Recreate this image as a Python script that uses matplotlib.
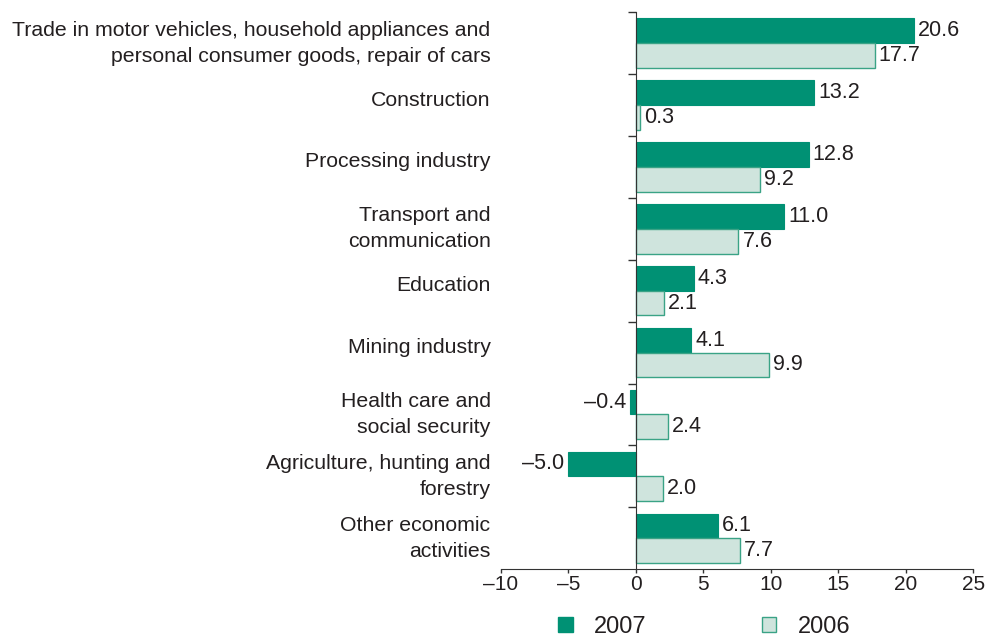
import matplotlib.pyplot as plt
from matplotlib.patches import Patch
from matplotlib.transforms import blended_transform_factory

plt.rcParams["font.family"] = ["Liberation Sans", "DejaVu Sans"]

# Sectors, top to bottom
sectors = [
    "Trade in motor vehicles, household appliances and\npersonal consumer goods, repair of cars",
    "Construction",
    "Processing industry",
    "Transport and\ncommunication",
    "Education",
    "Mining industry",
    "Health care and\nsocial security",
    "Agriculture, hunting and\nforestry",
    "Other economic\nactivities",
]
vals_2007 = [20.6, 13.2, 12.8, 11.0, 4.3, 4.1, -0.4, -5.0, 6.1]
vals_2006 = [17.7, 0.3, 9.2, 7.6, 2.1, 9.9, 2.4, 2.0, 7.7]
x_ticks = [-10, -5, 0, 5, 10, 15, 20, 25]

dark = "#009174"
light = "#cfe4dd"
edge = "#3aa386"
txt = "#231f20"


def fmt(v):
    s = f"{abs(v):.1f}"
    return "\u2013" + s if v < 0 else s


fig = plt.figure(figsize=(9.92, 6.41), dpi=100)
ax = fig.add_axes([0.505, 0.112, 0.476, 0.869])

n = len(sectors)
pos = list(range(n))
h = 0.4

ax.barh([p - h / 2 for p in pos], vals_2007, height=h, color=dark,
        edgecolor=dark, linewidth=0.8)
ax.barh([p + h / 2 for p in pos], vals_2006, height=h, color=light,
        edgecolor=edge, linewidth=1.0)

# value labels
for p, v in zip(pos, vals_2007):
    ax.text(v + (0.3 if v >= 0 else -0.35), p - h / 2, fmt(v),
            ha="left" if v >= 0 else "right", va="center",
            fontsize=15.5, color=txt)
for p, v in zip(pos, vals_2006):
    ax.text(v + 0.3, p + h / 2, fmt(v), ha="left", va="center",
            fontsize=15.5, color=txt)

ax.set_xlim(-10, 25)
ax.set_ylim(n - 0.5, -0.5)

ax.set_xticks(x_ticks)
ax.set_xticklabels([("\u2013" + str(-t)) if t < 0 else str(t) for t in x_ticks],
                   fontsize=15, color=txt)
ax.tick_params(axis="x", direction="out", length=3, width=1,
               color="#333333", pad=1)

# category labels placed left of the plotting area
trans = blended_transform_factory(ax.transAxes, ax.transData)
for p, s in zip(pos, sectors):
    dy = 0.0 if "\n" in s else -0.08
    ax.text(-0.022, p + dy, s, transform=trans, ha="right", va="center",
            fontsize=15.3, color=txt, linespacing=1.45)

# zero line with ticks at group boundaries
ax.spines["left"].set_position(("data", 0))
ax.set_yticks([p - 0.5 for p in pos])
ax.set_yticklabels([])
ax.tick_params(axis="y", direction="out", length=6, width=1,
               color="#333333")
for side in ["top", "right"]:
    ax.spines[side].set_visible(False)
ax.spines["left"].set_color("#333333")
ax.spines["bottom"].set_color("#333333")

handles = [
    Patch(facecolor=dark, edgecolor=dark, label="2007"),
    Patch(facecolor=light, edgecolor=edge, label="2006"),
]
fig.legend(handles=handles, loc="center", bbox_to_anchor=(0.71, 0.022),
           ncol=2, frameon=False, fontsize=17, handlelength=0.6,
           handleheight=0.6, columnspacing=4.9, handletextpad=0.9,
           labelcolor=txt, borderpad=0.2)

fig.savefig("out.png", dpi=100)
